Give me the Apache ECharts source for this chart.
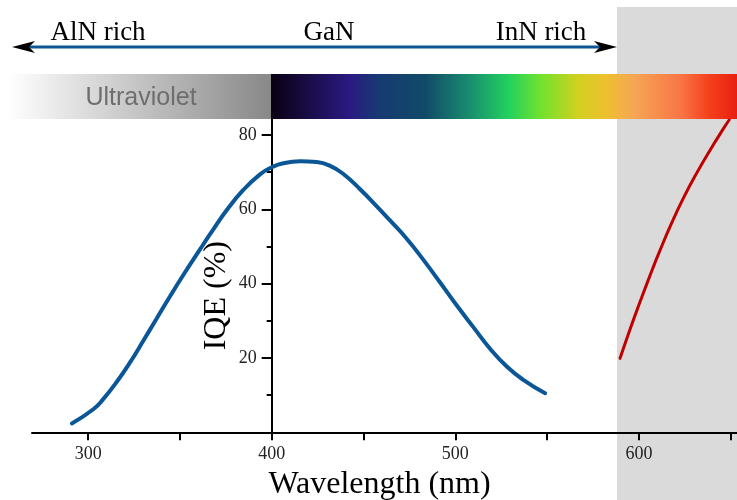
<!DOCTYPE html>
<html><head><meta charset="utf-8">
<script src="https://cdn.jsdelivr.net/npm/echarts@6/dist/echarts.min.js"></script>
<style>html,body{margin:0;padding:0;background:#fff}#c{width:737px;height:500px}</style>
</head><body><div id="c"></div>
<script>
// Data
const gaNWavelength = [291.1,302.8,308.3,315.6,322.8,330.1,337.4,344.6,351.9,360.9,366.4,375.5,384.5,393.6,400,406.3,415.4,424.5,431.8,439,448.1,457.2,464.4,473.5,482.6,491.7,500.8,509.8,518.9,528,537,548.9];
const gaNIQE = [2.4,6.2,9.0,13.6,18.8,24.7,30.7,36.6,42.4,49.2,53.3,59.8,65.2,69.4,71.3,72.4,72.9,72.7,71.7,69.5,65.4,60.8,57.0,52.1,46.4,40.3,34.1,28.3,22.5,17.7,14.1,10.5];
const redWavelength = [589.7,595.2,600.6,606.1,611.5,617.9,624.2,631.5,638.7,646,649.2];
const redIQE = [19.9,27.8,35.1,42.3,49.0,56.4,63.0,69.8,75.9,81.7,84.1];
const xTickValues = [300,350,400,450,500,550,600,650];
const xLabelValues = [300,400,500,600];
const yMajorTicks = [0,20,40,60,80];
const yLabelValues = [20,40,60,80];
const yMinorTicks = [10,30,50,70];
const topLabels = ['AlN rich','GaN','InN rich'];

const chart = echarts.init(document.getElementById('c'), null, {renderer:'canvas'});
const serif = '"Liberation Serif","Times New Roman",serif';
const zipPts = (xs, ys) => xs.map((x,i)=>[x, ys[i]]);

const spectrumStops = [
  [0,'#0a0012'],[0.17,'#2a1a82'],[0.23,'#173a72'],[0.33,'#114a68'],[0.43,'#19906f'],
  [0.51,'#22d15e'],[0.58,'#72e22e'],[0.66,'#d2d020'],[0.72,'#eec030'],[0.78,'#f5a555'],
  [0.88,'#f87545'],[0.94,'#f5401c'],[1,'#e82010']
];

const option = {
  animation:false,
  backgroundColor:'#ffffff',
  grid:{left:32, right:0, top:119, bottom:67.7, outerBoundsMode:'none', containLabel:false},
  xAxis:{
    type:'value', min:269.4, max:653.4,
    name:'Wavelength (nm)', nameLocation:'middle', nameGap:32,
    nameTextStyle:{fontFamily:serif, fontSize:32, color:'#000', padding:[0,10,0,0]},
    axisLine:{show:true, onZero:false, lineStyle:{color:'#000', width:2}},
    axisTick:{show:true, inside:false, length:8, customValues:xTickValues, lineStyle:{color:'#000', width:2}},
    axisLabel:{customValues:xLabelValues, margin:13, fontFamily:serif, fontSize:18, color:'#222'},
    splitLine:{show:false}
  },
  yAxis:[{
    type:'value', min:0, max:84.3, offset:-239.7,
    name:'IQE (%)', nameLocation:'middle', nameGap:39, nameRotate:90, nameMoveOverlap:false,
    nameTextStyle:{fontFamily:serif, fontSize:32, color:'#000', padding:[0,40,0,0]},
    axisLine:{show:true, lineStyle:{color:'#000', width:2}},
    axisTick:{show:true, length:10, customValues:yMajorTicks, lineStyle:{color:'#000', width:2}},
    axisLabel:{customValues:yLabelValues, margin:15, fontFamily:serif, fontSize:18, color:'#222'},
    splitLine:{show:false}
  },{
    type:'value', min:0, max:84.3, offset:-239.7, position:'left',
    axisLine:{show:false},
    axisTick:{show:true, length:5, customValues:yMinorTicks, lineStyle:{color:'#000', width:2}},
    axisLabel:{show:false},
    splitLine:{show:false}
  }],
  graphic:[
    {type:'rect', z:-10, shape:{x:617, y:7, width:120, height:493}, style:{fill:'#dadada'}},
    {type:'rect', z:5, shape:{x:8, y:74, width:263, height:45},
      style:{fill:new echarts.graphic.LinearGradient(0,0,1,0,[{offset:0,color:'#ffffff'},{offset:1,color:'#888888'}])}},
    {type:'rect', z:5, shape:{x:271, y:74, width:466, height:45},
      style:{fill:new echarts.graphic.LinearGradient(0,0,1,0,spectrumStops.map(s=>({offset:s[0],color:s[1]})))}},
    {type:'text', z:6, style:{x:141, y:98, text:'Ultraviolet', font:'25px "Liberation Sans", Arial, sans-serif', fill:'#6e6e6e', textAlign:'center', textVerticalAlign:'middle'}},
    {type:'line', z:6, shape:{x1:26, y1:47, x2:603, y2:47}, style:{stroke:'#0d5594', lineWidth:3}},
    {type:'polygon', z:7, shape:{points:[[12,47],[35,41],[29,47],[35,53]]}, style:{fill:'#000'}},
    {type:'polygon', z:7, shape:{points:[[617,47],[594,41],[600,47],[594,53]]}, style:{fill:'#000'}},
    {type:'text', z:6, style:{x:98, y:33, text:topLabels[0], font:'27px '+serif, fill:'#000', textAlign:'center', textVerticalAlign:'middle'}},
    {type:'text', z:6, style:{x:329, y:33, text:topLabels[1], font:'27px '+serif, fill:'#000', textAlign:'center', textVerticalAlign:'middle'}},
    {type:'text', z:6, style:{x:541, y:33, text:topLabels[2], font:'27px '+serif, fill:'#000', textAlign:'center', textVerticalAlign:'middle'}}
  ],
  series:[
    {type:'line', data:zipPts(gaNWavelength, gaNIQE), smooth:0.5, showSymbol:false, symbol:'none',
      lineStyle:{color:'#0a5697', width:4, cap:'round'}, z:3},
    {type:'line', data:zipPts(redWavelength, redIQE), smooth:0.5, showSymbol:false, symbol:'none',
      lineStyle:{color:'#c00000', width:3, cap:'round'}, z:3}
  ]
};
chart.setOption(option);
</script></body></html>
